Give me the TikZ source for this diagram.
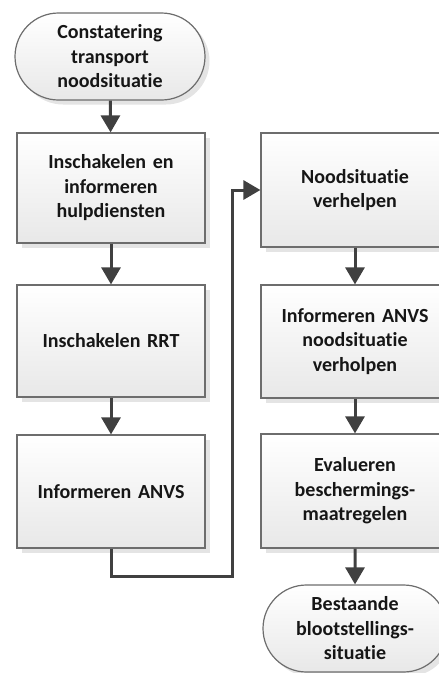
\documentclass[tikz,border=0pt]{standalone}
\usepackage{fontspec}
\setmainfont{Carlito}[RawFeature={-liga;-clig;-calt;-dlig}]
\usetikzlibrary{arrows.meta,shapes.misc,shadows}
\definecolor{boxborder}{HTML}{6D6D6D}
\definecolor{boxfill}{HTML}{E8E8E8}
\definecolor{shadowgray}{HTML}{E4E4E4}
\definecolor{arrowgray}{HTML}{404040}
\definecolor{txt}{HTML}{161616}
\begin{document}
\begin{tikzpicture}[x=1pt,y=-1pt,
  base/.style={draw=boxborder, line width=1.2pt, top color=white, bottom color=boxfill,
    inner sep=0pt, align=center, text=txt,
    font=\bfseries\fontsize{20}{24.5}\selectfont,
    drop shadow={shadow xshift=4.5pt, shadow yshift=-4.5pt, fill=shadowgray, opacity=1}},
  stepbox/.style={base, rectangle, minimum width=188pt, text width=176pt},
  term/.style={base, rounded rectangle, minimum width=190pt, minimum height=87pt, text width=150pt},
  flow/.style={draw=arrowgray, line width=3pt, -{Triangle[length=17pt,width=19pt]}}
]
\useasboundingbox (0,0) rectangle (439,673);
\node[term] (t1) at (110,56.5) {Constatering\\transport\\noodsituatie};
\node[stepbox, minimum height=110pt] (b1) at (111,188) {Inschakelen en\\informeren\\hulpdiensten};
\node[stepbox, minimum height=112pt] (b2) at (111,341) {Inschakelen RRT};
\node[stepbox, minimum height=113pt] (b3) at (111,491.5) {Informeren ANVS};
\node[stepbox, minimum height=114pt] (b4) at (355,190) {Noodsituatie\\verhelpen};
\node[stepbox, minimum height=113pt] (b5) at (355,341.5) {Informeren ANVS\\noodsituatie\\verholpen};
\node[stepbox, minimum height=114pt] (b6) at (355,491) {Evalueren\\beschermings-\\maatregelen};
\node[term, minimum width=184pt] (t2) at (355,628.5) {Bestaande\\blootstellings-\\situatie};
\coordinate (c1) at (232,576);
\draw[flow] (t1) -- (b1);
\draw[flow] (b1) -- (b2);
\draw[flow] (b2) -- (b3);
\draw[flow] (b3.south) |- (c1) |- (b4.west);
\draw[flow] (b4) -- (b5);
\draw[flow] (b5) -- (b6);
\draw[flow] (b6) -- (t2);
\end{tikzpicture}
\end{document}
